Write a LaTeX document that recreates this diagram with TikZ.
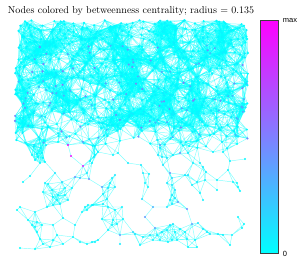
\documentclass[tikz,border=0pt]{standalone}
\usepackage{fontspec}
\newfontfamily\barfont{Liberation Sans}
\usetikzlibrary{positioning}
\definecolor{cian}{RGB}{0,255,255}
\definecolor{fucsia}{RGB}{255,0,255}
\pgfdeclarelayer{fondo}
\pgfsetlayers{fondo,main}
\newcount\nn
\newcount\cnti
\newcount\cntj
\newcount\difx
\newcount\dify
\def\radio{165}      % radius, tenths of a pixel
\def\radiosq{27225}

\begin{document}
\begin{tikzpicture}[x=1pt,y=-1pt,
punto/.style={circle,inner sep=0pt,minimum size=2.4pt},
arista/.style={draw=cian,opacity=0.5,line width=0.45pt},
barra/.style={draw=black!75,line width=0.5pt,top color=fucsia,bottom color=cian,minimum width=18pt,minimum height=233pt,inner sep=0pt},
etiq/.style={font=\barfont\fontsize{7.5}{8}\selectfont,inner sep=0pt}
]
\useasboundingbox (0,0) rectangle (299,258);
\node[font=\fontsize{10}{12}\selectfont] (titulo) at (131,11.5) {Nodes colored by betweenness centrality; radius $=$ 0.135};

% dense upper part, thinning out at its lower edge
\pgfmathsetseed{2718}
\foreach \k in {1,...,950}{
  \pgfmathtruncatemacro\rx{random(150,2480)}
  \pgfmathtruncatemacro\ry{random(200,1490)}
  \pgfmathtruncatemacro\rc{random(0,99)}
  \ifnum\ry>1300 \ifnum\rc<55 \pgfmathtruncatemacro\ry{random(200,1300)}\fi\fi
  \pgfmathtruncatemacro\rc{random(0,99)}
  \ifnum\ry>450 \ifnum\rc<12 \pgfmathtruncatemacro\rv{random(22,50)}\else\pgfmathtruncatemacro\rv{random(0,8)}\fi
  \else\pgfmathtruncatemacro\rv{random(0,6)}\fi
  \global\advance\nn by 1
  \expandafter\xdef\csname px\the\nn\endcsname{\rx}
  \expandafter\xdef\csname py\the\nn\endcsname{\ry}
  \node[punto,fill=fucsia!\rv!cian] (n\the\nn) at (\rx/10,\ry/10) {};
}

% sparse lower part
\foreach \bx/\by/\bv in {45/141/0,58/142/0,68/145/100,71/156/95,83/166/90,90/161/5,94/157/5,98/152/5,87/173/10,89/179/45,75/177/45,80/178/30,
32/155/3,37/154/3,42/153/3,43/158/3,40/163/3,35/160/3,45/162/3,38/157/3,
55/173/12,45/183/5,48/184/5,30/176/3,23/182/3,62/182/15,65/188/5,72/188/5,43/192/5,52/190/8,
53/197/5,57/200/5,53/205/5,47/207/5,60/204/5,68/200/5,65/195/5,58/195/5,20/207/0,17/210/0,
28/220/3,35/212/5,37/222/3,32/225/3,35/227/3,37/232/3,42/225/3,40/239/3,43/244/3,50/247/3,35/249/0,20/248/0,
53/225/5,63/218/5,57/235/3,53/240/3,63/244/3,75/225/5,73/237/3,82/212/3,85/207/3,88/205/3,92/205/3,87/210/3,
80/242/3,87/244/3,95/242/5,
118/153/5,113/155/5,128/163/8,141/165/8,143/173/8,149/174/5,145/183/5,148/187/3,95/155/5,92/163/5,
115/175/10,112/178/8,110/183/8,115/187/10,102/187/40,108/188/10,
158/155/10,162/157/10,167/158/10,163/165/10,170/173/45,172/178/15,167/183/10,172/185/10,175/190/12,160/145/40,
103/194/8,107/199/8,93/205/5,103/204/8,108/207/8,122/207/5,115/210/5,102/219/5,113/220/5,123/219/5,117/224/5,112/225/5,108/230/5,98/240/5,92/242/5,
120/235/40,120/244/8,133/232/15,135/234/10,143/237/8,140/245/5,
142/199/15,153/207/30,167/207/10,172/204/10,145/217/40,155/228/40,150/235/10,153/240/5,160/240/5,157/235/8,162/232/8,167/230/8,170/225/10,173/224/10,168/242/5,172/240/5,
180/153/45,173/155/10,188/153/10,193/163/8,200/163/8,203/167/8,206/172/8,205/180/8,197/182/8,192/185/8,188/175/10,185/175/10,200/193/5,
217/180/5,217/190/3,228/170/5,230/161/5,223/152/5,213/152/5,222/142/5,245/159/3,233/182/3,237/183/3,238/187/3,240/191/3,
178/202/40,187/209/45,203/200/5,172/195/10,175/198/10,170/200/10,
192/224/40,198/223/10,203/229/8,207/232/8,210/234/8,218/234/8,223/235/5,232/235/5,230/245/3,238/217/3,242/228/3,244/224/3,
187/239/5,177/240/5,195/240/5,197/247/3,188/247/3,185/232/5,180/229/5,175/232/5}{
  \global\advance\nn by 1
  \expandafter\xdef\csname px\the\nn\endcsname{\the\numexpr\bx*10\relax}
  \expandafter\xdef\csname py\the\nn\endcsname{\the\numexpr\by*10\relax}
  \node[punto,fill=fucsia!\bv!cian] (n\the\nn) at (\bx,\by) {};
}
\xdef\ntot{\the\nn}

% links closer than the radius, one path per node
\begin{pgfonlayer}{fondo}
\foreach \i in {1,...,\ntot}{
  \cnti=\i \cntj=\i
  \def\camino{}
  \loop\ifnum\cntj<\ntot
    \advance\cntj by 1
    \difx=\numexpr\csname px\the\cnti\endcsname-\csname px\the\cntj\endcsname\relax
    \ifnum\difx<0 \difx=-\difx\fi
    \ifnum\difx<\radio\relax
      \dify=\numexpr\csname py\the\cnti\endcsname-\csname py\the\cntj\endcsname\relax
      \ifnum\numexpr\difx*\difx+\dify*\dify\relax<\radiosq\relax
        \edef\camino{\camino (n\the\cnti.center) -- (n\the\cntj.center)}
      \fi
    \fi
  \repeat
  \ifx\camino\empty\else\draw[arista] \camino;\fi
}
\end{pgfonlayer}

% colour bar
\node[barra] (barra) at (269,136.5) {};
\node[etiq,anchor=north west] (emax) at ([xshift=4.5pt,yshift=1pt]barra.north east) {max};
\node[etiq,anchor=west] (ecero) at ([xshift=4.5pt,yshift=-1pt]barra.south east) {0};
\end{tikzpicture}
\end{document}
